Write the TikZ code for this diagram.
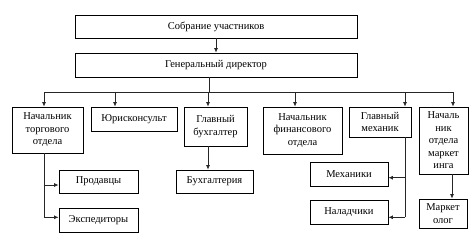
\documentclass[tikz,border=0pt]{standalone}
\usepackage{fontspec}
\setmainfont{Liberation Serif}
\usetikzlibrary{arrows.meta}
\begin{document}
\begin{tikzpicture}[x=1pt,y=-1pt,
  box/.style={draw=black,line width=0.8pt,inner sep=0pt,align=center,font=\fontsize{10.5}{12.5}\selectfont},
  conn/.style={draw=black!85,line width=0.8pt},
  arr/.style={conn,-{Latex[length=4.5pt,width=4pt]}}]
\useasboundingbox (0,0) rectangle (475,239);
\node[box,minimum width=282pt,minimum height=23pt] (top) at (216,26.5) {Собрание участников};
\node[box,minimum width=282pt,minimum height=24pt] (gd) at (216,65) {Генеральный директор};
\node[box,minimum width=71pt,minimum height=46pt] (torg) at (47.5,130) {Начальник\\торгового\\отдела};
\node[box,minimum width=86pt,minimum height=24pt] (jur) at (134,119) {Юрисконсульт};
\node[box,minimum width=63pt,minimum height=39pt] (buh) at (215.5,126.5) {Главный\\бухгалтер};
\node[box,minimum width=79pt,minimum height=47pt] (fin) at (302.5,130.5) {Начальник\\финансового\\отдела};
\node[box,minimum width=62pt,minimum height=30pt] (mech) at (380,122) {Главный\\механик};
\node[box,minimum width=49pt,minimum height=67pt] (mark) at (443.5,140.5) {Началь\\ник\\отдела\\маркет\\инга};
\node[box,minimum width=79pt,minimum height=23pt] (prod) at (98.5,181.5) {Продавцы};
\node[box,minimum width=79pt,minimum height=24pt] (exp) at (98.5,220) {Экспедиторы};
\node[box,minimum width=77pt,minimum height=23pt] (buhg) at (214.5,181.5) {Бухгалтерия};
\node[box,minimum width=78pt,minimum height=24pt] (mechs) at (349,174) {Механики};
\node[box,minimum width=78pt,minimum height=24pt] (nal) at (349,212) {Наладчики};
\node[box,minimum width=48pt,minimum height=29pt] (mlog) at (443,213.5) {Маркет\\олог};
% bus
\coordinate (g) at (209,92);
\coordinate (b1) at (44,92);
\coordinate (b2) at (115,92);
\coordinate (b3) at (208,92);
\coordinate (b4) at (295,92);
\coordinate (b5) at (405,92);
\coordinate (b6) at (453,92);
\draw[arr] (top) -- (gd);
\draw[conn] (gd.south -| g) -- (g);
\draw[conn] (b1) -- (b6);
\draw[arr] (b1) -- (b1 |- torg.north);
\draw[arr] (b2) -- (b2 |- jur.north);
\draw[arr] (b3) -- (b3 |- buh.north);
\draw[arr] (b4) -- (b4 |- fin.north);
\draw[arr] (b5) -- (b5 |- mech.north);
\draw[arr] (b6) -- (b6 |- mark.north);
% trade
\coordinate (t1) at ([yshift=-3.5pt]prod.west);
\coordinate (t2) at ([yshift=2.7pt]exp.west);
\draw[conn] (torg.south -| b1) -- (b1 |- t2);
\draw[arr] (b1 |- t1) -- (t1);
\draw[arr] (b1 |- t2) -- (t2);
% accounting
\draw[arr] (buh.south -| b3) -- (b3 |- buhg.north);
% mechanic
\coordinate (m1) at ([yshift=-3.7pt]mechs.east);
\coordinate (m2) at ([yshift=-5.3pt]nal.east);
\draw[conn] (mech.south -| b5) -- (b5 |- m2);
\draw[arr] (b5 |- m1) -- (m1);
\draw[arr] (b5 |- m2) -- (m2);
% marketing
\coordinate (k) at (452,0);
\draw[arr] (mark.south -| k) -- (k |- mlog.north);
\end{tikzpicture}
\end{document}
